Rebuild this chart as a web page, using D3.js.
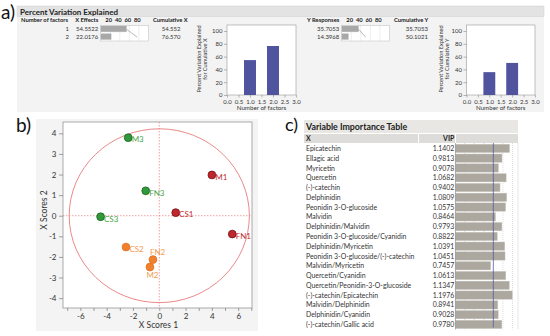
<!DOCTYPE html>
<html><head><meta charset="utf-8">
<script src="https://cdn.jsdelivr.net/npm/d3@7"></script>
<style>body{margin:0;background:#fff}svg{display:block}text{font-family:Lato,"Noto Sans",sans-serif}</style>
</head><body><svg id="c" width="550" height="336"></svg>
<script>
// ---------- data ----------
const factors = [1, 2];
const xEffects = [54.5522, 22.0176];
const cumX = [54.552, 76.570];
const yResponses = [35.7053, 14.3968];
const cumY = [35.7053, 50.1021];
const effectTicks = [20, 40, 60, 80];
const factorTicks = [0, 0.5, 1, 1.5, 2, 2.5, 3];
const pctTicks = [0, 20, 40, 60, 80, 100];

const samples = ["M1", "CS1", "FN1", "CS2", "FN2", "M2", "M3", "FN3", "CS3"];
const groups = [1, 1, 1, 2, 2, 2, 3, 3, 3];
const score1 = [4.0, 1.25, 5.55, -2.53, -0.48, -0.71, -2.36, -1.03, -4.46];
const score2 = [1.98, 0.15, -0.89, -1.52, -2.13, -2.49, 3.79, 1.21, -0.05];
const scoreTicksX = [-6, -4, -2, 0, 2, 4, 6];
const scoreTicksY = [-4, -3, -2, -1, 0, 1, 2, 3, 4];
const ellipseRadii = [6.85, 4.22];

const variables = ["Epicatechin", "Ellagic acid", "Myricetin", "Quercetin", "(-)-catechin", "Delphinidin",
  "Peonidin 3-O-glucoside", "Malvidin", "Delphinidin/Malvidin", "Peonidin 3-O-glucoside/Cyanidin",
  "Delphinidin/Myricetin", "Peonidin 3-O-glucoside/(-)-catechin", "Malvidin/Myricetin", "Quercetin/Cyanidin",
  "Quercetin/Peonidin-3-O-glucoside", "(-)-catechin/Epicatechin", "Malvidin/Delphinidin", "Delphinidin/Cyanidin",
  "(-)-catechin/Gallic acid"];
const vip = [1.1402, 0.9813, 0.9078, 1.0682, 0.9402, 1.0809, 1.0575, 0.8464, 0.9793, 0.8822, 1.0391, 1.0451,
  0.7457, 1.0613, 1.1347, 1.1976, 0.8941, 0.9028, 0.9780];
const vipThreshold = 0.8;
const vipGrid = [0.2, 0.4, 0.6, 1.0, 1.2];

// ---------- drawing ----------
const svg = d3.select("#c");
const TXT = "#333";
const serif = "'Liberation Serif','DejaVu Serif',serif";

// ===== a) =====
svg.append("text").attr("x", 1).attr("y", 19).attr("font-family", serif).attr("font-size", 19).attr("fill", "#111").text("a)");
svg.append("rect").attr("x", 17).attr("y", 6).attr("width", 527).attr("height", 106).attr("fill", "#f3f3f3");
svg.append("rect").attr("x", 17).attr("y", 6).attr("width", 527).attr("height", 10.5).attr("fill", "#e3e3e3").attr("stroke", "#d0d0d0").attr("stroke-width", 0.5);
svg.append("text").attr("x", 20).attr("y", 14.5).attr("font-size", 8).attr("font-weight", "bold").attr("fill", "#222").text("Percent Variation Explained");

function effectTable(opt) {
  const g = svg.append("g");
  const xs = d3.scaleLinear().domain([0, 100]).range([opt.barX, opt.barX + 47.7]);
  const rowY = d3.scaleBand().domain(factors).range([25.5, 41]);
  const hs = 5.8;
  if (opt.showFactors) {
    g.append("text").attr("x", 21).attr("y", 22).attr("font-size", hs).attr("font-weight", "bold").attr("fill", "#222").text("Number of factors");
    g.selectAll(".f").data(factors).join("text").attr("x", 69).attr("y", d => rowY(d) + 5.5).attr("text-anchor", "end").attr("font-size", 6).attr("fill", TXT).text(d => d);
  }
  g.append("text").attr("x", opt.valX).attr("y", 22).attr("text-anchor", "end").attr("font-size", hs).attr("font-weight", "bold").attr("fill", "#222").text(opt.head);
  g.selectAll(".tk").data(effectTicks).join("text").attr("x", d => xs(d) - 1.5).attr("y", 22).attr("text-anchor", "middle").attr("font-size", hs).attr("font-weight", "bold").attr("fill", "#222").text(d => d);
  g.append("text").attr("x", opt.cumHeadX).attr("y", 22).attr("font-size", hs).attr("font-weight", "bold").attr("fill", "#222").text(opt.cumHead);
  g.selectAll(".v").data(opt.vals).join("text").attr("x", opt.valX).attr("y", (d, i) => rowY(factors[i]) + 5.5).attr("text-anchor", "end").attr("font-size", 6).attr("fill", TXT).text(d => d.toFixed(4));
  g.selectAll(".c").data(opt.cum).join("text").attr("x", opt.cumX).attr("y", (d, i) => rowY(factors[i]) + 5.5).attr("text-anchor", "end").attr("font-size", 6).attr("fill", TXT).text(d => opt.cumFmt(d));
  g.append("rect").attr("x", xs(0)).attr("y", 25.5).attr("width", xs(100) - xs(0)).attr("height", 15.5).attr("fill", "#fff").attr("stroke", "#bbb").attr("stroke-width", 0.5);
  g.selectAll(".gl").data(effectTicks).join("line").attr("x1", d => xs(d)).attr("x2", d => xs(d)).attr("y1", 25.5).attr("y2", 41).attr("stroke", "#bbb").attr("stroke-width", 0.5).attr("stroke-dasharray", "1,1");
  g.selectAll(".b").data(opt.vals).join("rect").attr("x", xs(0)).attr("y", (d, i) => rowY(factors[i]) + 0.3).attr("width", d => xs(d) - xs(0)).attr("height", rowY.bandwidth() - 1.6).attr("fill", "#a8a8a8").attr("stroke", "#d5d5d5").attr("stroke-width", 0.4);
  g.append("path").attr("d", d3.line()(opt.cum.map((c, i) => [xs(c), rowY(factors[i]) + rowY.bandwidth() / 2]))).attr("stroke", "#777").attr("stroke-width", 0.5).attr("fill", "none");
}
effectTable({showFactors: true, head: "X Effects", valX: 98.3, barX: 100.7, cumHead: "Cumulative X", cumHeadX: 153, cumX: 180.5, vals: xEffects, cum: cumX, cumFmt: d => d.toFixed(3)});
effectTable({showFactors: false, head: "Y Responses", valX: 339.3, barX: 341.7, cumHead: "Cumulative Y", cumHeadX: 394, cumX: 428, vals: yResponses, cum: cumY, cumFmt: d => d.toFixed(4)});

function cumChart(x0, x1, values, letter, labX) {
  const g = svg.append("g");
  const xs = d3.scaleLinear().domain([0, 3]).range([x0, x1]);
  const ys = d3.scaleLinear().domain([0, 100]).range([95, 31]);
  g.append("rect").attr("x", x0).attr("y", 25).attr("width", x1 - x0).attr("height", 70).attr("fill", "#fff").attr("stroke", "#999").attr("stroke-width", 0.6);
  g.append("g").attr("transform", "translate(0,95)").call(d3.axisBottom(xs).tickValues(factorTicks).tickFormat(d3.format(".1f")).tickSize(2.5).tickSizeOuter(0)).call(a => { a.select(".domain").remove(); a.selectAll("line").attr("stroke", "#777").attr("stroke-width", 0.5); a.selectAll("text").attr("font-size", 6).attr("fill", TXT).attr("font-family", "Lato").attr("dy", "0.6em"); });
  g.append("g").attr("transform", `translate(${x0},0)`).call(d3.axisLeft(ys).tickValues(pctTicks).tickSize(3).tickSizeOuter(0)).call(a => { a.select(".domain").remove(); a.selectAll("line").attr("stroke", "#777").attr("stroke-width", 0.5); a.selectAll("text").attr("font-size", 6).attr("fill", TXT).attr("font-family", "Lato").attr("x", -4.5); });
  g.selectAll(".bar").data(values).join("rect").attr("x", (d, i) => xs(factors[i] - 0.26)).attr("width", xs(0.52) - xs(0)).attr("y", d => ys(d)).attr("height", d => ys(0) - ys(d)).attr("fill", "#50549e");
  g.append("text").attr("x", (x0 + x1) / 2).attr("y", 110).attr("text-anchor", "middle").attr("font-size", 6.2).attr("fill", TXT).text("Number of factors");
  const lab = g.append("text").attr("transform", `translate(${labX},59) rotate(-90)`).attr("text-anchor", "middle").attr("font-size", 5.6).attr("fill", TXT);
  lab.append("tspan").attr("x", 0).attr("y", 0).text("Percent Variation Explained");
  lab.append("tspan").attr("x", 0).attr("y", 6.2).text("for Cumulative " + letter);
}
cumChart(227, 296, cumX, "X", 201);
cumChart(466.5, 535, cumY, "Y", 443);

// ===== b) =====
svg.append("text").attr("x", 16).attr("y", 132).attr("font-family", serif).attr("font-size", 19).attr("fill", "#111").text("b)");
svg.append("rect").attr("x", 36).attr("y", 119).attr("width", 222).attr("height", 212).attr("fill", "#f4f4f4");
const sx = d3.scaleLinear().domain([-7.32, 7.05]).range([63, 252]);
const sy = d3.scaleLinear().domain([-4.48, 4.55]).range([308, 122]);
const sg = svg.append("g");
sg.append("rect").attr("x", 63).attr("y", 122).attr("width", 189).attr("height", 186).attr("fill", "#fff").attr("stroke", "#888").attr("stroke-width", 0.7);
sg.append("g").attr("transform", "translate(0,308)").call(d3.axisBottom(sx).tickValues(d3.range(-7, 8, 1)).tickFormat(d => scoreTicksX.includes(d) ? d : "").tickSize(3).tickSizeOuter(0))
  .call(a => { a.select(".domain").remove(); a.selectAll("line").attr("stroke", "#666").attr("stroke-width", 0.6); a.selectAll("text").attr("font-size", 8).attr("fill", TXT).attr("font-family", "Lato").attr("dy", "0.62em"); });
sg.append("g").attr("transform", "translate(63,0)").call(d3.axisLeft(sy).tickValues(scoreTicksY).tickFormat(d => d).tickSize(4).tickSizeOuter(0))
  .call(a => { a.select(".domain").remove(); a.selectAll("line").attr("stroke", "#666").attr("stroke-width", 0.6); a.selectAll("text").attr("font-size", 8).attr("fill", TXT).attr("font-family", "Lato").attr("x", -6.5); });
sg.append("line").attr("x1", sx(0)).attr("x2", sx(0)).attr("y1", 122).attr("y2", 308).attr("stroke", "#e77").attr("stroke-width", 0.7).attr("stroke-dasharray", "1.5,1.5");
sg.append("line").attr("x1", 63).attr("x2", 252).attr("y1", sy(0)).attr("y2", sy(0)).attr("stroke", "#e77").attr("stroke-width", 0.7).attr("stroke-dasharray", "1.5,1.5");
sg.append("ellipse").attr("cx", sx(0)).attr("cy", sy(0)).attr("rx", sx(ellipseRadii[0]) - sx(0)).attr("ry", sy(0) - sy(ellipseRadii[1])).attr("fill", "none").attr("stroke", "#e87c7c").attr("stroke-width", 0.9);
const fillC = {1: "#c0262c", 2: "#f07f2e", 3: "#2f9a3a"};
const strokeC = {1: "#6e1518", 2: "#e0701f", 3: "#1d5e22"};
const labC = {1: "#c22a2f", 2: "#f29a50", 3: "#4aa64a"};
const pts = samples.map((s, i) => ({s, g: groups[i], x: score1[i], y: score2[i]}));
sg.selectAll(".pt").data(pts).join("circle").attr("cx", d => sx(d.x)).attr("cy", d => sy(d.y)).attr("r", 3.9).attr("fill", d => fillC[d.g]).attr("stroke", d => strokeC[d.g]).attr("stroke-width", 0.8);
const lblOff = s => s === "FN2" ? [-3, -4.7] : s === "M2" ? [-3.5, 10.5] : [3.4, 4.8];
sg.selectAll(".lb").data(pts).join("text").attr("x", d => sx(d.x) + lblOff(d.s)[0]).attr("y", d => sy(d.y) + lblOff(d.s)[1]).attr("font-size", 8).attr("fill", d => labC[d.g]).text(d => d.s);
sg.append("text").attr("x", 158.5).attr("y", 328).attr("text-anchor", "middle").attr("font-size", 8.5).attr("fill", TXT).text("X Scores 1");
sg.append("text").attr("transform", "translate(46.5,210) rotate(-90)").attr("text-anchor", "middle").attr("font-size", 8.5).attr("fill", TXT).text("X Scores 2");

// ===== c) =====
svg.append("text").attr("x", 285).attr("y", 131).attr("font-family", serif).attr("font-size", 18).attr("fill", "#111").text("c)");
const cg = svg.append("g");
cg.append("rect").attr("x", 304).attr("y", 120).attr("width", 214).attr("height", 13).attr("fill", "#e9e7e4");
cg.append("text").attr("x", 306).attr("y", 130).attr("font-size", 8.8).attr("font-weight", "bold").attr("fill", "#222").text("Variable Importance Table");
cg.append("rect").attr("x", 304).attr("y", 134).attr("width", 114).attr("height", 9).attr("fill", "#dedcd8");
cg.append("rect").attr("x", 419).attr("y", 134).attr("width", 36).attr("height", 9).attr("fill", "#dedcd8");
cg.append("rect").attr("x", 456).attr("y", 134).attr("width", 62).attr("height", 9).attr("fill", "#dedcd8");
cg.append("text").attr("x", 306).attr("y", 141).attr("font-size", 7).attr("font-weight", "bold").attr("fill", "#222").text("X");
cg.append("text").attr("x", 454.3).attr("y", 141).attr("text-anchor", "end").attr("font-size", 7).attr("font-weight", "bold").attr("fill", "#222").text("VIP");
const vx = d3.scaleLinear().domain([0, 1.3]).range([455.1, 455.1 + 1.3 * 47.8]);
const vy = d3.scaleBand().domain(variables).range([143.6, 143.6 + 9.78 * variables.length]);
cg.selectAll(".vg").data(vipGrid).join("line").attr("x1", d => vx(d)).attr("x2", d => vx(d)).attr("y1", 143).attr("y2", vy.range()[1]).attr("stroke", "#c4c4c4").attr("stroke-width", 0.6).attr("stroke-dasharray", "1,1");
cg.selectAll(".vb").data(variables).join("rect").attr("x", vx(0)).attr("y", d => vy(d) + 0.6).attr("width", (d, i) => vx(vip[i]) - vx(0)).attr("height", vy.bandwidth() - 1.4).attr("fill", "#aca89f").attr("stroke", "#cfccc6").attr("stroke-width", 0.4);
cg.append("line").attr("x1", vx(vipThreshold)).attr("x2", vx(vipThreshold)).attr("y1", 143).attr("y2", vy.range()[1] - 2).attr("stroke", "#5b5ba6").attr("stroke-width", 0.8);
cg.append("line").attr("x1", 455.5).attr("x2", 455.5).attr("y1", 143).attr("y2", vy.range()[1]).attr("stroke", "#999").attr("stroke-width", 0.7);
cg.append("line").attr("x1", 518).attr("x2", 518).attr("y1", 143).attr("y2", vy.range()[1]).attr("stroke", "#ddd").attr("stroke-width", 0.7);
cg.selectAll(".vn").data(variables).join("text").attr("x", 306).attr("y", d => vy(d) + 7.4).attr("font-size", 6.9).attr("fill", TXT).text(d => d);
cg.selectAll(".vv").data(vip).join("text").attr("x", 454.3).attr("y", (d, i) => vy(variables[i]) + 7.4).attr("text-anchor", "end").attr("font-size", 6.9).attr("fill", TXT).text(d => d.toFixed(4));
</script></body></html>
